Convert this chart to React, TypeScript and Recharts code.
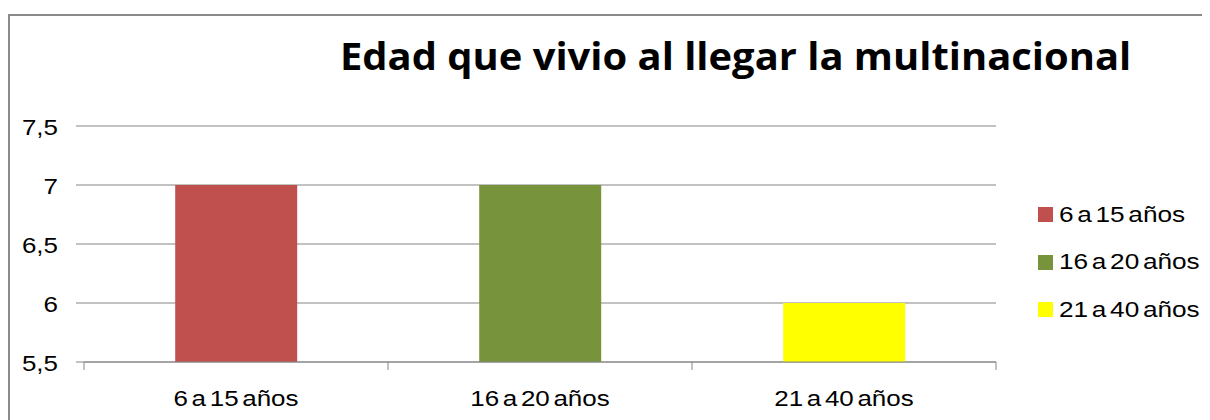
import React from 'react';
import { BarChart, Bar, Cell, XAxis, YAxis, CartesianGrid } from 'recharts';

const categories = ['6 a 15 años', '16 a 20 años', '21 a 40 años'];
const values = [7, 7, 6];
const colors = ['#C0504D', '#77933C', '#FFFF00'];
const yTicks = [5.5, 6, 6.5, 7, 7.5];

const data = categories.map((name, i) => ({ name, value: values[i] }));

const W = 1202;
const H = 412;
const PLOT_LEFT = 76;
const PLOT_RIGHT = 988;
const BAND = (PLOT_RIGHT - PLOT_LEFT) / categories.length;
const font = '"Liberation Sans", Arial, sans-serif';
// the source text is drawn a bit wider than plain Arial
const STRETCH = 1.18;

const XTick = (props: any) => {
  const { x, y, payload, index } = props;
  const last = index === categories.length - 1;
  return (
    <g>
      <line x1={x - BAND / 2} x2={x - BAND / 2} y1={y - 8} y2={y} stroke="#868686" />
      {last && <line x1={x + BAND / 2} x2={x + BAND / 2} y1={y - 8} y2={y} stroke="#868686" />}
      <text
        transform={`translate(${x},${y + 36}) scale(${STRETCH},1)`}
        textAnchor="middle"
        fontSize={22}
        fill="#000"
        fontFamily={font}
        wordSpacing={-3}
      >
        {payload.value}
      </text>
    </g>
  );
};

const YTick = (props: any) => {
  const { y, payload } = props;
  return (
    <text
      transform={`translate(50,${y + 9}) scale(${STRETCH},1)`}
      textAnchor="end"
      fontSize={22}
      fill="#000"
      fontFamily={font}
    >
      {String(payload.value).replace('.', ',')}
    </text>
  );
};

export default function App() {
  return (
    <div style={{ position: 'relative', width: W, height: H, fontFamily: font }}>
      <div
        style={{
          position: 'absolute', left: 0, top: 6, width: W + 20, height: H + 20,
          borderLeft: '2px solid #8a8a8a', borderTop: '2px solid #8a8a8a', boxSizing: 'border-box',
        }}
      />
      <div
        style={{
          position: 'absolute', left: 332, top: 28, fontSize: 38, fontWeight: 700, lineHeight: 1,
          fontFamily: '"Open Sans", sans-serif', color: '#000', whiteSpace: 'nowrap',
          transform: 'scaleX(1.05)', transformOrigin: 'left top',
        }}
      >
        Edad que vivio al llegar la multinacional
      </div>
      <BarChart
        width={W}
        height={H}
        data={data}
        margin={{ top: 118, right: W - PLOT_RIGHT, bottom: 0, left: 0 }}
        barCategoryGap="30%"
        style={{ position: 'absolute', left: 0, top: 0 }}
      >
        <CartesianGrid vertical={false} stroke="#868686" strokeWidth={1.2} />
        <YAxis
          width={PLOT_LEFT}
          domain={[5.5, 7.5]}
          ticks={yTicks}
          allowDataOverflow
          axisLine={false}
          tickSize={8}
          tickLine={{ stroke: '#868686' }}
          tick={<YTick />}
        />
        <XAxis
          dataKey="name"
          height={58}
          axisLine={{ stroke: '#868686', strokeWidth: 1.2 }}
          tickLine={false}
          tick={<XTick />}
          interval={0}
        />
        <Bar dataKey="value" isAnimationActive={false}>
          {data.map((d, i) => (
            <Cell key={d.name} fill={colors[i]} />
          ))}
        </Bar>
      </BarChart>
      <div style={{ position: 'absolute', left: 1030, top: 183 }}>
        {categories.map((c, i) => (
          <div key={c} style={{ display: 'flex', alignItems: 'center', height: 47.5 }}>
            <span style={{ width: 15, height: 15, background: colors[i], marginRight: 6, flexShrink: 0 }} />
            <span
              style={{
                fontSize: 22, wordSpacing: -3, color: '#000', display: 'inline-block',
                transform: 'scaleX(1.19)', transformOrigin: 'left center', whiteSpace: 'nowrap',
              }}
            >
              {c}
            </span>
          </div>
        ))}
      </div>
    </div>
  );
}
